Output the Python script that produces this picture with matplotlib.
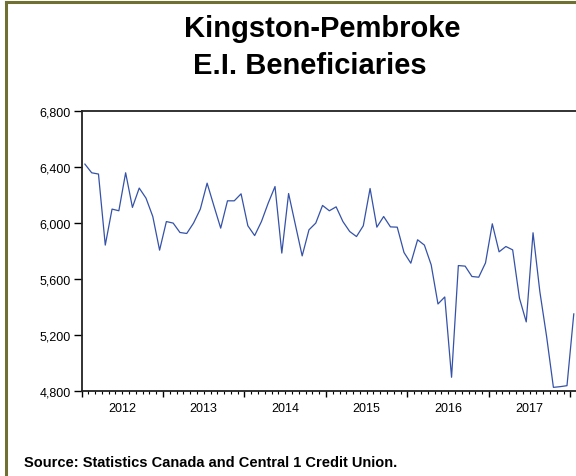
import numpy as np
import matplotlib
matplotlib.use("Agg")
import matplotlib.pyplot as plt
from matplotlib.ticker import FuncFormatter

plt.rcParams['font.family'] = ['Liberation Sans', 'DejaVu Sans']

# monthly E.I. beneficiaries, Jan 2012 .. Jan 2018
years = [2012, 2013, 2014, 2015, 2016, 2017]
beneficiaries = [
    6419, 6357, 6348, 5841, 6098, 6086, 6357, 6110, 6248, 6176, 6045, 5805,
    6009, 5998, 5931, 5924, 5998, 6098, 6283, 6121, 5962, 6157, 6157, 6207,
    5979, 5909, 6009, 6141, 6259, 5784, 6209, 5986, 5764, 5950, 5998, 6124,
    6086, 6114, 6009, 5938, 5902, 5979, 6245, 5969, 6045, 5971, 5969, 5788,
    5712, 5879, 5841, 5700, 5421, 5471, 4898, 5695, 5691, 5617, 5612, 5714,
    5993, 5793, 5831, 5807, 5462, 5293, 5929, 5510, 5188, 4826, 4831, 4838,
    5350,
]
yticks = [4800, 5200, 5600, 6000, 6400, 6800]

W, H = 576, 477
fig = plt.figure(figsize=(W / 100, H / 100), dpi=100)

# outer frame (left and top edges only visible)
border = '#707032'
fig.add_artist(plt.Line2D([6 / W, 6 / W], [0, 1 - 3 / H], color=border, lw=2.2))
fig.add_artist(plt.Line2D([6 / W, 1], [1 - 3 / H, 1 - 3 / H], color=border, lw=2.2))

fig.text(322 / W, 1 - 29 / H, 'Kingston-Pembroke', ha='center', va='center',
         fontsize=21, fontweight='bold')
fig.text(310 / W, 1 - 66 / H, 'E.I. Beneficiaries', ha='center', va='center',
         fontsize=21, fontweight='bold')
fig.text(24 / W, 1 - 463 / H, 'Source: Statistics Canada and Central 1 Credit Union.',
         ha='left', va='center', fontsize=10.5, fontweight='bold')

left, bottom, top = 81.5, 392.0, 111.7
px_month = 6.79
xmax = 73.5
ax = fig.add_axes([left / W, 1 - bottom / H, xmax * px_month / W, (bottom - top) / H])

x = np.arange(len(beneficiaries)) + 0.5
ax.plot(x, beneficiaries, color='#3552a8', lw=0.9)

ax.set_xlim(0, xmax)
ax.set_ylim(4800, 6800)
ax.set_yticks(yticks)
ax.yaxis.set_major_formatter(FuncFormatter(lambda v, p: f'{int(v):,}'))

nmonths = 12 * len(years) + 1
ax.set_xticks([12 * i for i in range(len(years) + 1)], [''] * (len(years) + 1))
minor_pos = list(range(nmonths))
minor_lab = [''] * nmonths
for i, yr in enumerate(years):
    minor_lab[12 * i + 6] = str(yr)
ax.set_xticks(minor_pos, minor_lab, minor=True)

ax.tick_params(axis='y', direction='out', length=6, width=1, pad=1.5, labelsize=9)
ax.tick_params(axis='x', which='major', direction='out', length=4, width=1)
ax.tick_params(axis='x', which='minor', direction='out', length=2.2, width=0.8,
               pad=5.5, labelsize=9)

for s in ['left', 'top', 'bottom']:
    ax.spines[s].set_linewidth(1.3)
    ax.spines[s].set_color('#222222')
ax.spines['right'].set_visible(False)

fig.savefig('out.png', dpi=100)
